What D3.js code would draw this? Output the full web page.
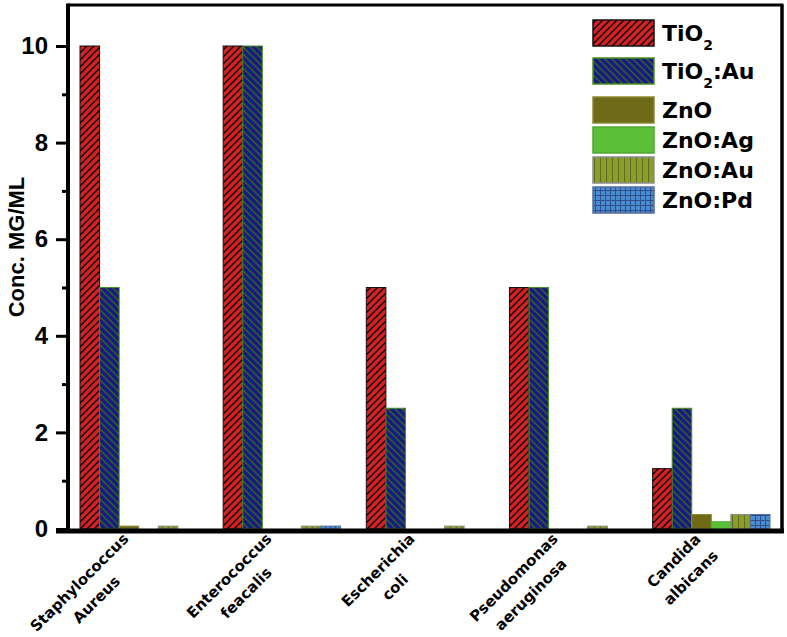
<!DOCTYPE html>
<html><head><meta charset="utf-8">
<script src="https://cdn.jsdelivr.net/npm/d3@7"></script>
<style>body{margin:0;background:#fff}svg{display:block}text{font-family:Arial,"Liberation Sans",sans-serif;font-weight:bold;fill:#000}.dv{font-family:"DejaVu Sans",Verdana,sans-serif}</style>
</head><body><svg id="c" width="787" height="637"></svg>
<script>
const categories = [["Staphylococcus","Aureus"],["Enterococcus","feacalis"],["Escherichia","coli"],["Pseudomonas","aeruginosa"],["Candida","albicans"]];
const seriesNames = ["TiO2","TiO2:Au","ZnO","ZnO:Ag","ZnO:Au","ZnO:Pd"];
const TiO2    = [10, 10, 5, 5, 1.25];
const TiO2_Au = [5, 10, 2.5, 5, 2.5];
const ZnO     = [0.06, 0, 0, 0, 0.3];
const ZnO_Ag  = [0, 0, 0, 0, 0.15];
const ZnO_Au  = [0.06, 0.06, 0.06, 0.06, 0.3];
const ZnO_Pd  = [0, 0.06, 0, 0, 0.3];
const yTicks = [0, 2, 4, 6, 8, 10];
const yMinor = [1, 3, 5, 7, 9];
const values = [TiO2, TiO2_Au, ZnO, ZnO_Ag, ZnO_Au, ZnO_Pd];

const svg = d3.select("#c");
const L = 68, R = 782, T = 5, B = 529;
const y = d3.scaleLinear().domain([0, 10]).range([B, 46]);
const catKeys = categories.map(c => c.join(" "));
const x0 = d3.scaleBand().domain(catKeys).range([L, R]).paddingInner(0.18).paddingOuter(0.084);
const x1 = d3.scaleBand().domain(seriesNames).range([0, x0.bandwidth()]);

const defs = svg.append("defs");
function pat(id, bg, draw, size) {
  const p = defs.append("pattern").attr("id", id).attr("patternUnits", "userSpaceOnUse").attr("width", size).attr("height", size);
  p.append("rect").attr("width", size).attr("height", size).attr("fill", bg);
  draw(p, size);
}
pat("pRed", "#d42222", (p, s) => p.append("path").attr("d", `M0,${s} L${s},0 M${-1},1 L1,-1 M${s-1},${s+1} L${s+1},${s-1}`).attr("stroke", "#000").attr("stroke-width", 1.3), 7);
pat("pNavy", "#1a1a82", (p, s) => p.append("path").attr("d", `M0,0 L${s},${s} M${-1},${s-1} L1,${s+1} M${s-1},-1 L${s+1},1`).attr("stroke", "#2f6a1c").attr("stroke-width", 1.3), 7);
pat("pAu", "#8a9c2a", (p, s) => p.append("path").attr("d", `M0.5,0 L0.5,${s}`).attr("stroke", "#5f6e1e").attr("stroke-width", 1), 6);
pat("pPd", "#4a8cd0", (p, s) => p.append("path").attr("d", `M0.5,0 L0.5,${s} M0,0.5 L${s},0.5`).attr("stroke", "#2f4f8a").attr("stroke-width", 1), 5);

const fills = ["url(#pRed)", "url(#pNavy)", "#6e6a18", "#5cbf38", "url(#pAu)", "url(#pPd)"];
const strokes = ["#111", "#4a8c20", "#8a8a30", "#4fa830", "#8c8c8c", "#5a6a9e"];

// bars
const g = svg.append("g");
categories.forEach((c, ci) => {
  seriesNames.forEach((s, si) => {
    const v = values[si][ci];
    if (v <= 0) return;
    g.append("rect")
      .attr("x", x0(catKeys[ci]) + x1(s))
      .attr("y", y(v))
      .attr("width", x1.bandwidth())
      .attr("height", y(0) - y(v))
      .attr("fill", fills[si]).attr("stroke", strokes[si]).attr("stroke-width", 1);
  });
});

// frame
svg.append("line").attr("x1", L).attr("x2", R + 1.5).attr("y1", T).attr("y2", T).attr("stroke", "#000").attr("stroke-width", 3);
svg.append("line").attr("x1", R).attr("x2", R).attr("y1", T).attr("y2", B + 2).attr("stroke", "#000").attr("stroke-width", 3.5);

// y axis
const yAxis = d3.axisLeft(y).tickValues(yTicks).tickSize(12).tickPadding(8).tickFormat(d3.format("d"));
const ya = svg.append("g").attr("transform", `translate(${L},0)`).call(yAxis);
ya.select(".domain").remove();
ya.selectAll("line").attr("stroke", "#000").attr("stroke-width", 3);
ya.selectAll("text").style("font-size", "24px").style("font-weight", "bold").style("font-family", "Arial, 'Liberation Sans', sans-serif").attr("fill", "#000");
const yAxisMinor = d3.axisLeft(y).tickValues(yMinor).tickSize(6).tickFormat("");
const ym = svg.append("g").attr("transform", `translate(${L},0)`).call(yAxisMinor);
ym.select(".domain").remove();
ym.selectAll("line").attr("stroke", "#000").attr("stroke-width", 3);
svg.append("line").attr("x1", L).attr("x2", L).attr("y1", T - 1.5).attr("y2", B + 4).attr("stroke", "#000").attr("stroke-width", 4);
svg.append("line").attr("x1", L - 12).attr("x2", R + 2).attr("y1", B + 2).attr("y2", B + 2).attr("stroke", "#000").attr("stroke-width", 5);

svg.append("text").attr("transform", `translate(24,${(T + B) / 2 - 20}) rotate(-90)`).attr("text-anchor", "middle").style("font-size", "22px").text("Conc. MG/ML");

// x labels
const lh = 24;
categories.forEach((c, ci) => {
  const cx = x0(catKeys[ci]) + x0.bandwidth() / 2;
  const lg = svg.append("g").attr("transform", `translate(${cx - 5},544) rotate(-45)`);
  const ts = c.map((t, i) => lg.append("text").attr("class", "dv").attr("text-anchor", "middle").attr("y", (i - 0.5) * lh + 6).style("font-size", "15px").text(t));
  const maxW = d3.max(ts, t => t.node().getComputedTextLength());
  ts.forEach(t => t.attr("x", -maxW / 2));
});

// legend
const legTops = [20, 58, 97, 127, 157, 187];
const leg = svg.append("g");
seriesNames.forEach((s, si) => {
  leg.append("rect").attr("x", 593).attr("y", legTops[si]).attr("width", 61).attr("height", 26)
    .attr("fill", fills[si]).attr("stroke", strokes[si]).attr("stroke-width", 1.5);
  const t = leg.append("text").attr("class", "dv").attr("x", 662).attr("y", legTops[si] + 21).style("font-size", "22px");
  const m = s.match(/^TiO2(.*)$/);
  if (m) {
    t.append("tspan").text("TiO");
    t.append("tspan").attr("dy", 9).style("font-size", "14px").text("2");
    if (m[1]) t.append("tspan").attr("dy", -9).text(m[1]);
  } else t.text(s);
});
</script></body></html>
